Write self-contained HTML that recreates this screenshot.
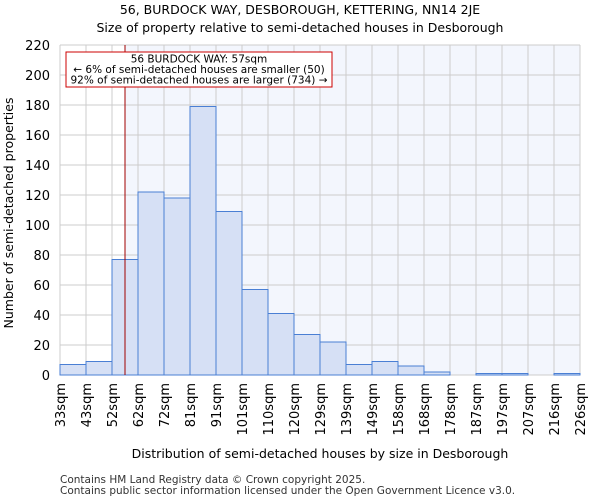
<!DOCTYPE html>
<html><head><meta charset="utf-8"><style>
body{margin:0;background:#fff;font-family:"DejaVu Sans","Liberation Sans",sans-serif;}
</style></head><body>
<svg width="600" height="500" xmlns="http://www.w3.org/2000/svg" font-family="DejaVu Sans, Liberation Sans, sans-serif">
<text x="300" y="14" font-size="12.5" text-anchor="middle">56, BURDOCK WAY, DESBOROUGH, KETTERING, NN14 2JE</text>
<text x="300" y="32" font-size="12.5" text-anchor="middle">Size of property relative to semi-detached houses in Desborough</text>
<g id="plot"></g>
<text x="320" y="458" font-size="12.5" text-anchor="middle">Distribution of semi-detached houses by size in Desborough</text>
<text transform="translate(13,213) rotate(-90)" font-size="12.5" text-anchor="middle">Number of semi-detached properties</text>
<text x="60" y="483" font-size="10.5" fill="#333">Contains HM Land Registry data © Crown copyright 2025.</text>
<text x="60" y="494" font-size="10.5" fill="#333">Contains public sector information licensed under the Open Government Licence v3.0.</text>
</svg>
<script>
const categories=["33sqm","43sqm","52sqm","62sqm","72sqm","81sqm","91sqm","101sqm","110sqm","120sqm","129sqm","139sqm","149sqm","158sqm","168sqm","178sqm","187sqm","197sqm","207sqm","216sqm","226sqm"];
const counts=[7,9,77,122,118,179,109,57,41,27,22,7,9,6,2,0,1,1,0,1];
const yTicks=[0,20,40,60,80,100,120,140,160,180,200,220];
const markerBin=2.5;
const x0=60,x1=580,y0=375,y1=45,ymax=220;
const bw=(x1-x0)/counts.length;
const xs=i=>x0+i*bw;
const ys=v=>y0-(v/ymax)*(y0-y1);
const ns="http://www.w3.org/2000/svg";
const g=document.getElementById('plot');
function mk(t,a){const e=document.createElementNS(ns,t);for(const k in a)e.setAttribute(k,a[k]);g.appendChild(e);return e;}
const mx=xs(markerBin);
let e=mk('rect',{x:x0,y:y1,width:x1-x0,height:y0-y1,fill:'#fff'});

e=mk('rect',{x:mx,y:y1,width:x1-mx,height:y0-y1,fill:'#f3f6fd'});

yTicks.forEach(t=>{
 let l=mk('line',{x1:x0,x2:x1,y1:ys(t),y2:ys(t),stroke:'#ccc','stroke-width':1});
 
 let tx=mk('text',{x:x0-10,y:ys(t)+5,'font-size':13,'text-anchor':'end'});tx.textContent=t;
 
});
categories.forEach((c,i)=>{
 let l=mk('line',{x1:xs(i),x2:xs(i),y1:y1,y2:y0,stroke:'#ccc','stroke-width':1});
 
 let tx=mk('text',{transform:`translate(${xs(i)+5},383) rotate(-90)`,'font-size':13,'text-anchor':'end'});tx.textContent=c;
 
});
counts.forEach((v,i)=>{
 if(v<=0)return;
 let r=mk('rect',{x:xs(i),y:ys(v),width:bw,height:y0-ys(v),fill:'#d6e0f5',stroke:'#4a7fd4','stroke-width':1});
 
});
e=mk('line',{x1:mx,x2:mx,y1:y1,y2:y0,stroke:'#a00000','stroke-width':1});

e=mk('rect',{x:66,y:52,width:266,height:35,fill:'#fff',stroke:'#c00','stroke-width':1});

["56 BURDOCK WAY: 57sqm","← 6% of semi-detached houses are smaller (50)","92% of semi-detached houses are larger (734) →"].forEach((s,i)=>{
 let t=mk('text',{x:199,y:62.5+i*10.5,'font-size':10.5,'text-anchor':'middle'});t.textContent=s;
 
});
</script>
</body></html>
